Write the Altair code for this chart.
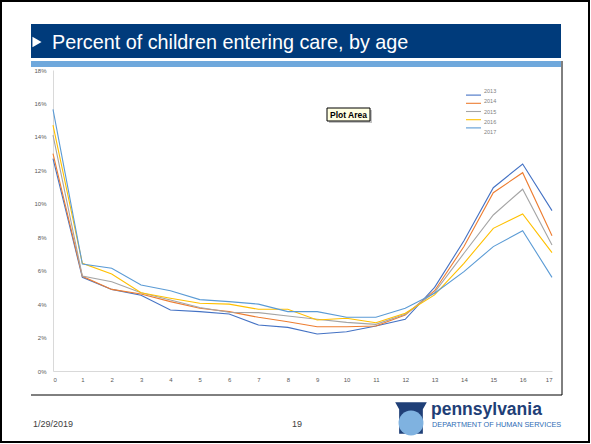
import altair as alt
import pandas as pd

# Share of children entering care at each age (percent), by year
ages = list(range(18))
years = ["2013", "2014", "2015", "2016", "2017"]
colors = ["#4472C4", "#ED7D31", "#A5A5A5", "#FFC000", "#5B9BD5"]

pct_2013 = [12.7, 5.6, 4.88, 4.53, 3.65, 3.55, 3.41, 2.75, 2.61, 2.21, 2.35, 2.69, 3.09, 5.0, 7.79, 10.96, 12.38, 9.59]
pct_2014 = [13.0, 5.66, 4.88, 4.6, 4.15, 3.75, 3.55, 3.21, 2.95, 2.65, 2.65, 2.69, 3.35, 4.8, 7.44, 10.66, 11.86, 8.09]
pct_2015 = [14.1, 5.68, 5.34, 4.68, 4.25, 3.8, 3.51, 3.49, 3.29, 3.09, 2.91, 2.79, 3.39, 4.7, 7.04, 9.33, 10.87, 7.54]
pct_2016 = [14.7, 6.44, 5.8, 4.68, 4.35, 4.05, 4.0, 3.69, 3.69, 3.05, 3.15, 2.89, 3.45, 4.55, 6.44, 8.53, 9.39, 7.08]
pct_2017 = [15.65, 6.4, 6.14, 5.14, 4.8, 4.27, 4.15, 4.0, 3.55, 3.55, 3.21, 3.21, 3.75, 4.65, 5.94, 7.44, 8.39, 5.6]

y_ticks = [0, 2, 4, 6, 8, 10, 12, 14, 16, 18]

series = [pct_2013, pct_2014, pct_2015, pct_2016, pct_2017]
rows = []
for yr, vals in zip(years, series):
    for a, v in zip(ages, vals):
        rows.append({"age": a, "pct": v, "year": yr})
df = pd.DataFrame(rows)

W, H = 499, 301
one = pd.DataFrame({"k": [0]})
FONT = "Liberation Sans"


def box(x, x2, y, y2, **kw):
    return alt.Chart(one).mark_rect(**kw).encode(
        x=alt.value(x), x2=alt.value(x2), y=alt.value(y), y2=alt.value(y2)
    )


def label(text, x, y, **kw):
    return alt.Chart(one).mark_text(text=text, font=FONT, **kw).encode(
        x=alt.value(x), y=alt.value(y)
    )


# slide frame, title band and content box
frame = box(-52, 536, -69, 372, filled=False, stroke="black", strokeWidth=2)
band = box(-22, 508, -46, -12, color="#003B7B")
strip = box(-22, 508, -9, -3, color="#6FA8DC")
right_edge = alt.Chart(one).mark_rule(color="black", strokeWidth=1).encode(
    x=alt.value(509), y=alt.value(-9), y2=alt.value(325)
)
bottom_edge = alt.Chart(one).mark_rule(color="black", strokeWidth=1).encode(
    x=alt.value(-22), x2=alt.value(509), y=alt.value(325)
)
arrow = alt.Chart(one).mark_point(
    shape="triangle-right", filled=True, color="white", opacity=1, size=110
).encode(x=alt.value(-16), y=alt.value(-28))
title = label("Percent of children entering care, by age", -1, -21,
              fontSize=19.8, color="white", align="left", baseline="alphabetic")

# lines
lines = alt.Chart(df).mark_line(strokeWidth=1.1).encode(
    x=alt.X("age:Q", scale=alt.Scale(domain=[0, 17], nice=False),
            axis=alt.Axis(values=ages, format="d", title=None, grid=False, ticks=False,
                          labelFontSize=6, labelColor="#595959", domainColor="#D9D9D9",
                          labelPadding=5, labelFont=FONT)),
    y=alt.Y("pct:Q", scale=alt.Scale(domain=[0, 18], nice=False),
            axis=alt.Axis(values=y_ticks, labelExpr="datum.value + '%'", title=None,
                          grid=False, ticks=False, labelFontSize=6, labelColor="#595959",
                          domainColor="#D9D9D9", labelPadding=7, labelFont=FONT)),
    color=alt.Color("year:N", scale=alt.Scale(domain=years, range=colors), legend=None),
    order="age:Q",
)

# legend
leg_df = pd.DataFrame({"year": years})
leg_y = alt.Y("year:O", scale=alt.Scale(domain=years, range=[21, 62], padding=0), axis=None)
leg_lines = alt.Chart(leg_df).mark_rule(strokeWidth=1.1).encode(
    x=alt.value(413), x2=alt.value(428), y=leg_y,
    color=alt.Color("year:N", scale=alt.Scale(domain=years, range=colors), legend=None),
)
leg_text = alt.Chart(leg_df).mark_text(
    align="left", baseline="middle", fontSize=5.5, color="#7F7F7F", font=FONT
).encode(x=alt.value(431), y=leg_y, text="year:N")

# "Plot Area" hover tip
tip_shadow = box(276, 319, 40, 53, color="#9A9A9A", opacity=0.6)
tip_box = box(274, 317, 38, 51, fill="#FFFFE1", stroke="black", strokeWidth=1)
tip_text = label("Plot Area", 295.5, 45, fontSize=8.5, color="black",
                 align="center", baseline="middle", fontWeight="bold")

# footer
date_txt = label("1/29/2019", -20, 357, fontSize=9, color="#404040",
                 align="left", baseline="alphabetic")
page_txt = label("19", 244, 357, fontSize=9, color="#404040",
                 align="center", baseline="alphabetic")
logo_key = alt.Chart(one).mark_point(
    shape="M-1,-1L1,-1L0.75,-0.55L0.75,1L-0.75,1L-0.75,-0.55Z",
    filled=True, color="#1F3F77", opacity=1, size=1000
).encode(x=alt.value(358), y=alt.value(348))
logo_circle = alt.Chart(one).mark_circle(color="#7FB2E0", opacity=1, size=620).encode(
    x=alt.value(358), y=alt.value(353)
)
pa_txt = label("pennsylvania", 378, 345, fontSize=17.5, fontWeight="bold",
               color="#1F3F77", align="left", baseline="alphabetic")
dhs_txt = label("DEPARTMENT OF HUMAN SERVICES", 379, 357, fontSize=7.3,
                color="#2F6DB5", align="left", baseline="alphabetic")

chart = alt.layer(
    frame, band, strip, right_edge, bottom_edge, arrow, title,
    lines, leg_lines, leg_text,
    tip_shadow, tip_box, tip_text,
    date_txt, page_txt, logo_key, logo_circle, pa_txt, dhs_txt,
).resolve_scale(
    y="independent", x="independent", color="shared"
).properties(
    width=W, height=H,
    autosize=alt.AutoSizeParams(type="none"),
    padding={"left": 53, "top": 70, "right": 39, "bottom": 73},
    background="white",
).configure_view(stroke=None)

chart.save("out.html", embed_options={"renderer": "svg", "actions": False})
